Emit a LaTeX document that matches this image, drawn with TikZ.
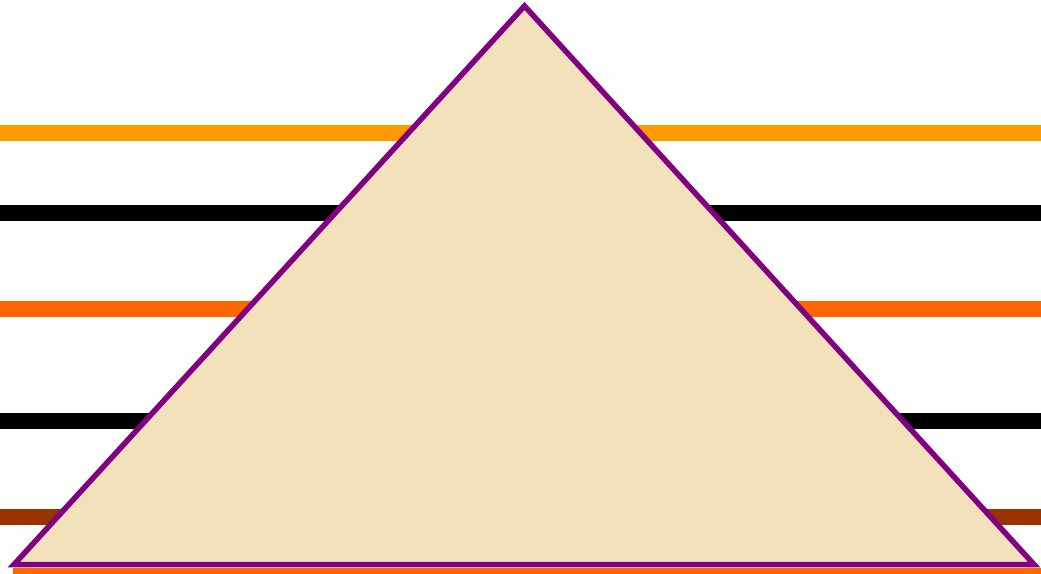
\documentclass[tikz,border=0pt]{standalone}
\definecolor{orangeA}{HTML}{FF9900}
\definecolor{orangeB}{HTML}{FF6600}
\definecolor{brownA}{HTML}{993300}
\definecolor{parch}{HTML}{F3E1BC}
\definecolor{purp}{HTML}{800080}
\tikzset{band/.style={line width=16pt}}
\begin{document}
\begin{tikzpicture}[x=1pt,y=-1pt]
\useasboundingbox (0,0) rectangle (1041,573);
\fill[white] (0,0) rectangle (1041,573);
\draw[band,orangeA] (0,133) -- (1041,133);
\draw[band,black] (0,212.5) -- (1041,212.5);
\draw[band,orangeB] (0,309) -- (1041,309);
\draw[band,black] (0,421) -- (1041,421);
\draw[band,brownA] (0,517) -- (1041,517);
\draw[band,orangeB] (13,576) -- (1041,576);
\coordinate (apex) at (524.5,6);
\coordinate (bl) at (14,564.5);
\coordinate (br) at (1034,564.5);
\filldraw[fill=parch,draw=purp,line width=5.5pt,line join=miter] (apex) -- (bl) -- (br) -- cycle;
\end{tikzpicture}
\end{document}
